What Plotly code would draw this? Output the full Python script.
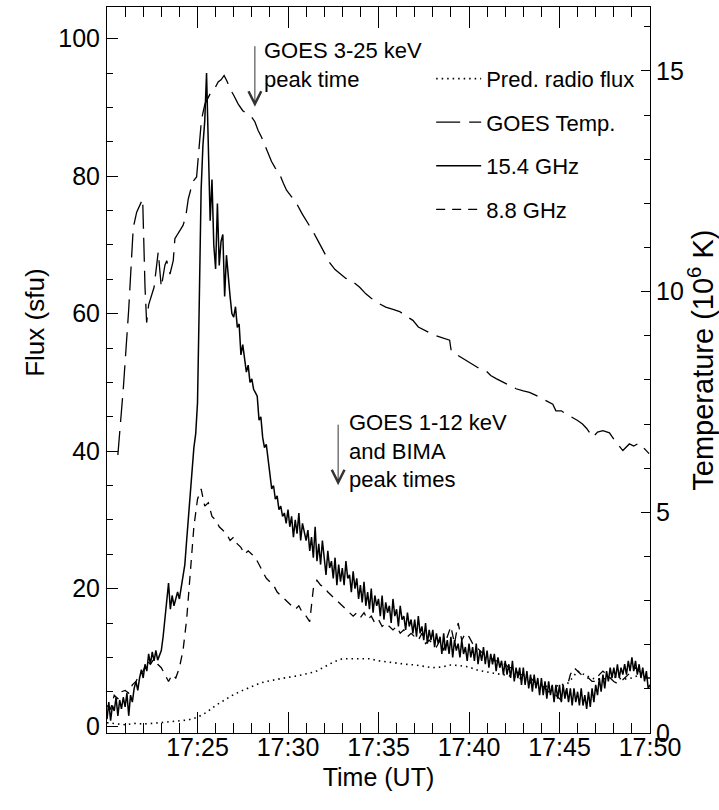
import plotly.graph_objects as go

# ---------------- data (minutes after 17:00 UT) ----------------
# 15.4 GHz flux (sfu), sampled every 0.1 min from 17:20:00
flux_154 = [
    1.0, 3.5, 0.8, 3.0, 2.2, 4.2, 1.5, 3.8, 2.5, 4.2,
    2.8, 4.8, 1.5, 4.5, 3.5, 5.5, 6.5, 5.2, 7.0, 8.2,
    7.0, 9.0, 8.0, 10.5, 9.0, 10.8, 9.5, 11.0, 9.6, 10.2,
    11.0, 13.0, 15.5, 17.5, 20.8, 17.0, 19.0, 17.5, 18.5, 19.5,
    18.5, 20.0, 21.5, 23.5, 27.0, 30.5, 33.5, 37.0, 40.5, 42.5,
    47.0, 62.0, 78.0, 84.5, 88.0, 95.0, 85.5, 73.5, 79.5, 70.0,
    66.5, 76.0, 67.0, 70.5, 71.5, 62.5, 68.5, 65.0, 62.5, 60.0,
    59.5, 61.0, 58.0, 58.5, 54.0, 55.5, 53.0, 51.5, 52.5, 50.0,
    50.5, 49.0, 48.5, 48.0, 44.5, 45.0, 42.0, 40.5, 41.0, 38.5,
    36.0, 34.5, 35.0, 33.0, 33.5, 31.5, 32.0, 30.5, 31.0, 29.5,
    31.5, 29.0, 30.5, 27.5, 30.0, 28.0, 31.0, 27.0, 29.5, 28.0,
    27.0, 28.5, 25.5, 27.5, 24.5, 29.0, 24.0, 26.5, 23.5, 27.0,
    24.5, 22.0, 25.5, 23.0, 24.0, 21.5, 24.5, 20.5, 23.5, 21.0,
    23.0, 20.5, 24.0, 21.5, 22.0, 19.5, 22.5, 20.0, 21.5, 18.5,
    20.5, 18.0, 21.0, 17.5, 19.5, 17.0, 20.0, 16.5, 19.0, 17.5,
    18.5, 16.0, 19.0, 15.5, 18.0, 16.5, 17.5, 15.0, 18.5, 16.0,
    17.0, 14.5, 17.5, 15.5, 16.0, 14.0, 16.5, 14.5, 15.5, 13.5,
    15.5, 13.0, 16.0, 13.5, 14.5, 12.5, 15.0, 12.0, 14.0, 12.5,
    14.0, 11.5, 13.5, 12.0, 13.0, 10.5, 13.5, 11.0, 12.5, 10.5,
    13.0, 10.0, 12.5, 11.0, 12.0, 10.0, 12.5, 10.5, 11.5, 9.5,
    12.0, 10.0, 11.5, 9.5, 12.0, 9.0, 11.0, 9.5, 11.5, 9.0,
    11.0, 8.5, 10.5, 9.0, 10.5, 8.0, 10.0, 8.5, 9.5, 7.5,
    9.5, 7.5, 9.0, 7.0, 9.5, 6.5, 8.5, 7.0, 8.5, 6.0,
    8.5, 6.0, 8.0, 5.5, 7.5, 5.0, 7.5, 5.5, 7.0, 4.5,
    7.0, 4.5, 6.5, 4.0, 6.5, 4.5, 6.0, 3.5, 6.0, 4.0,
    6.0, 3.5, 6.0, 4.0, 5.5, 3.5, 5.5, 3.0, 5.5, 3.5,
    5.0, 3.0, 5.5, 3.0, 4.5, 2.5, 5.0, 2.8, 5.5, 3.5,
    6.0, 4.5, 7.0, 5.0, 7.5, 5.5, 8.0, 6.5, 8.5, 7.0,
    8.5, 7.0, 9.0, 7.0, 8.5, 7.5, 9.0, 7.5, 9.5, 8.0,
    10.0, 8.0, 9.5, 7.5, 9.0, 7.0, 8.5, 6.5, 8.0, 5.5,
    6.0,
]
step_154 = 0.1

# 8.8 GHz flux (sfu), sampled every 0.2 min from 17:20:00
flux_88 = [
    3.0, 2.5, 4.5, 4.0, 5.0,
    5.2, 4.8, 6.0, 6.5, 7.5,
    8.0, 9.5, 9.0, 9.8, 9.0,
    8.5, 7.5, 6.5, 7.5, 7.0,
    8.5, 11.0, 15.5, 22.0, 29.0,
    33.0, 34.5, 32.0, 32.5, 30.5,
    30.0, 29.0, 28.5, 28.0, 27.0,
    27.5, 26.5, 26.0, 25.0, 25.5,
    25.0, 24.5, 23.5, 22.5, 21.5,
    21.0, 20.5, 19.5, 19.0, 18.5,
    18.0, 17.5, 17.0, 17.5, 16.5,
    16.0, 15.2, 20.0, 21.2, 20.5,
    20.3, 19.5, 19.0, 18.5, 18.0,
    17.5, 17.0, 16.5, 16.0, 16.5,
    15.8, 16.5, 15.5, 16.0, 15.0,
    15.5, 14.5, 15.0, 14.5, 14.0,
    14.5, 13.5, 14.0, 13.0, 13.5,
    13.0, 12.5, 13.5, 12.0, 12.5,
    12.0, 11.5, 12.5, 11.0, 13.0,
    14.5, 12.0, 15.0, 12.5, 13.5,
    13.0, 12.0, 11.5, 11.0, 10.5,
    10.5, 10.0, 9.5, 9.5, 9.0,
    9.0, 8.5, 8.5, 8.0, 7.5,
    7.5, 7.0, 7.0, 6.5, 6.0,
    6.0, 5.5, 5.0, 5.0, 4.5,
    4.0, 3.5, 5.5, 7.5, 8.5,
    8.0, 7.5, 7.0, 7.0, 6.5,
    6.5, 7.5, 8.0, 7.5, 7.0,
    6.5, 6.2, 6.5, 7.0, 7.5,
    8.0, 8.5, 8.0, 7.5, 7.0,
    7.0,
]
step_88 = 0.2

# Predicted radio flux (sfu), sampled every 0.5 min from 17:20:00
flux_pred = [
    0.5, 0.4, 0.2, 0.4, 0.3, 0.4, 0.5, 0.6, 0.7, 0.9,
    1.3, 2.0, 3.0, 3.8, 4.6, 5.2, 5.8, 6.3, 6.6, 6.9,
    7.1, 7.3, 7.6, 7.9, 8.6, 9.3, 9.8, 9.8, 9.9, 9.8,
    9.5, 9.3, 9.1, 9.0, 8.9, 8.7, 8.5, 8.6, 8.9, 8.8,
    8.6, 8.1, 7.9, 7.7, 7.5, 7.2, 6.8, 6.2, 5.9, 5.7,
    5.9, 6.3, 8.0, 7.3, 6.8, 6.9, 7.2, 6.8, 7.0, 7.5,
    7.0,
]
step_pred = 0.5

# GOES temperature (10^6 K)
temp_time = [
    20.6, 20.9, 21.2, 21.45, 21.64, 21.97, 22.1, 22.19, 22.3, 22.45,
    22.6, 22.83, 23.0, 23.2, 23.3, 23.48, 23.66, 23.75, 23.9, 24.03,
    24.2, 24.35, 24.49, 24.65, 24.76, 24.95, 25.1, 25.22, 25.41, 25.6,
    25.78, 25.95, 26.14, 26.3, 26.47, 26.65, 26.79, 27.0, 27.25, 27.5,
    27.8, 28.0, 28.17, 28.35, 28.54, 28.8, 29.09, 29.3, 29.55, 29.75,
    29.92, 30.2, 30.47, 30.8, 31.11, 31.4, 31.66, 32.0, 32.31, 32.6,
    32.9, 33.2, 33.5, 33.96, 34.3, 34.6, 35.07, 35.4, 35.8, 36.17,
    36.5, 36.9, 37.2, 37.55, 37.9, 38.2, 38.6, 38.93, 39.02, 39.4,
    39.85, 40.2, 40.6, 40.95, 41.2, 41.5, 41.8, 42.06, 42.35, 42.6,
    43.0, 43.34, 43.7, 44.0, 44.3, 44.63, 44.8, 45.1, 45.4, 45.72,
    46.0, 46.27, 46.5, 46.84, 47.1, 47.4, 47.76, 48.1, 48.5, 48.86,
    49.1, 49.4, 49.7, 49.95,
]
temp_val = [
    6.3, 7.8, 9.6, 11.45, 11.8, 12.1, 10.1, 9.3, 9.7, 9.9,
    10.1, 10.9, 10.1, 10.6, 10.7, 10.4, 10.7, 11.2, 11.3, 11.4,
    11.5, 11.7, 12.1, 12.35, 12.5, 12.6, 13.3, 13.9, 14.25, 14.4,
    14.55, 14.6, 14.75, 14.8, 14.9, 14.75, 14.6, 14.45, 14.25, 14.1,
    14.0, 13.95, 13.85, 13.65, 13.5, 13.25, 12.95, 12.8, 12.65, 12.45,
    12.3, 12.15, 12.0, 11.75, 11.55, 11.35, 11.15, 10.9, 10.65, 10.5,
    10.4, 10.3, 10.25, 10.1, 9.95, 9.85, 9.72, 9.65, 9.6, 9.55,
    9.45, 9.35, 9.2, 9.12, 9.05, 9.0, 8.95, 8.9, 8.65, 8.55,
    8.45, 8.35, 8.25, 8.2, 8.1, 8.03, 7.97, 7.9, 7.85, 7.8,
    7.75, 7.72, 7.65, 7.58, 7.52, 7.45, 7.3, 7.3, 7.22, 7.15,
    7.08, 7.0, 6.9, 6.7, 6.82, 6.85, 6.8, 6.6, 6.4, 6.55,
    6.5, 6.57, 6.45, 6.33,
]

tick_vals = [25, 30, 35, 40, 45, 50]
tick_text = ["17:25", "17:30", "17:35", "17:40", "17:45", "17:50"]

legend_names = ["Pred. radio flux", "GOES Temp.", "15.4 GHz", "8.8 GHz"]

time_154 = [round(20 + step_154 * i, 3) for i in range(len(flux_154))]
time_88 = [round(20 + step_88 * i, 3) for i in range(len(flux_88))]
time_pred = [round(20 + step_pred * i, 3) for i in range(len(flux_pred))]

FONT = "Liberation Sans, Arial, sans-serif"

fig = go.Figure()
fig.add_trace(go.Scatter(x=time_pred, y=flux_pred, mode="lines", name=legend_names[0],
                         legendgroup="a",
                         line=dict(color="black", width=1.6, dash="1.5px,4px")))
fig.add_trace(go.Scatter(x=temp_time, y=temp_val, mode="lines", name=legend_names[1],
                         yaxis="y2", legendgroup="b",
                         line=dict(color="black", width=1.3, dash="24px,9px")))
fig.add_trace(go.Scatter(x=time_154, y=flux_154, mode="lines", name=legend_names[2],
                         legendgroup="c",
                         line=dict(color="black", width=1.5)))
fig.add_trace(go.Scatter(x=time_88, y=flux_88, mode="lines", name=legend_names[3],
                         legendgroup="d",
                         line=dict(color="black", width=1.3, dash="9px,7px")))

ann_font = dict(family=FONT, size=22, color="black")
fig.add_annotation(x=28.17, y=90.1, xref="x", yref="y", text="", showarrow=True,
                   ax=0, ay=-62, arrowhead=5, arrowsize=2.5, arrowwidth=1,
                   arrowcolor="#333", standoff=0)
fig.add_annotation(x=28.58, y=96.2, xref="x", yref="y",
                   text="GOES 3-25 keV<br>peak time", showarrow=False,
                   xanchor="left", yanchor="middle", align="left", font=ann_font)
fig.add_annotation(x=32.77, y=35.05, xref="x", yref="y", text="", showarrow=True,
                   ax=0, ay=-62, arrowhead=5, arrowsize=2.5, arrowwidth=1,
                   arrowcolor="#333", standoff=0)
fig.add_annotation(x=33.27, y=40.0, xref="x", yref="y",
                   text="GOES 1-12 keV<br>and BIMA<br>peak times", showarrow=False,
                   xanchor="left", yanchor="middle", align="left", font=ann_font)

tickfont = dict(family=FONT, size=25, color="black")
titlefont = dict(family=FONT, size=25, color="black")

# axis titles placed as paper annotations
fig.add_annotation(x=-0.1326, y=0.565, xref="paper", yref="paper", text="Flux (sfu)",
                   showarrow=False, textangle=-90, xanchor="center", yanchor="middle",
                   font=dict(family=FONT, size=26, color="black"))
fig.add_annotation(x=1.0934, y=0.5138, xref="paper", yref="paper",
                   text="Temperature (10<sup>6</sup> K)",
                   showarrow=False, textangle=-90, xanchor="center", yanchor="middle",
                   font=dict(family=FONT, size=29, color="black"))

fig.update_layout(
    width=719, height=810,
    margin=dict(l=107, r=69, t=7, b=77),
    paper_bgcolor="white", plot_bgcolor="white",
    font=dict(family=FONT, color="black"),
    showlegend=True,
    legend=dict(x=0.597, y=0.93, xanchor="left", yanchor="top",
                bgcolor="rgba(0,0,0,0)", font=dict(family=FONT, size=22),
                tracegroupgap=12, itemwidth=45, traceorder="grouped"),
    xaxis=dict(range=[20, 50], tickmode="array", tickvals=tick_vals, ticktext=tick_text,
               ticks="inside", ticklen=21, tickwidth=1, tickcolor="black",
               minor=dict(tick0=20, dtick=1, ticks="inside", ticklen=10, tickcolor="black"),
               showline=True, linecolor="black", linewidth=1, mirror="ticks",
               showgrid=False, zeroline=False, tickfont=tickfont, ticklabelstandoff=-8,
               title=dict(text="Time (UT)", font=titlefont, standoff=8), automargin=False),
    yaxis=dict(range=[-1.0, 104.6], tickmode="array", tickvals=[0, 20, 40, 60, 80, 100],
               ticks="inside", ticklen=11, tickwidth=1, tickcolor="black",
               minor=dict(tick0=0, dtick=5, ticks="inside", ticklen=6, tickcolor="black"),
               showline=True, linecolor="black", linewidth=1, ticklabelstandoff=1,
               showgrid=False, zeroline=False, tickfont=tickfont, automargin=False),
    yaxis2=dict(range=[0, 16.45], overlaying="y", side="right", tickmode="array",
                tickvals=[0, 5, 10, 15],
                ticks="inside", ticklen=9, tickwidth=1, tickcolor="black",
                minor=dict(tick0=0, dtick=1, ticks="inside", ticklen=6, tickcolor="black"),
                showline=True, linecolor="black", linewidth=1,
                showgrid=False, zeroline=False, tickfont=tickfont, automargin=False),
)

fig.write_html("out.html", config={"displayModeBar": False},
               post_script="document.body.style.margin='0';")
